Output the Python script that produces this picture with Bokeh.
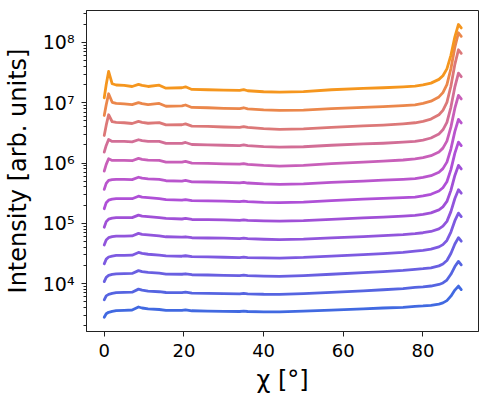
from bokeh.plotting import figure
from bokeh.models import Range1d, FixedTicker, CustomJSTickFormatter
from bokeh.embed import file_html
from bokeh.resources import INLINE

# chi angle in degrees (shared by all curves)
chi = [0, 0.5, 1.1, 2, 3, 5, 7, 8.6, 9.5, 11, 13.8, 15.5, 19.5, 20.4, 22, 26, 30, 34, 35, 36,
       40, 44, 50, 57, 65, 70, 75, 78, 80, 82, 84, 85, 86, 87, 88, 88.9, 89.3, 89.6]

log_I_01 = [3.440, 3.498, 3.523, 3.539, 3.551, 3.556, 3.561, 3.611, 3.594, 3.578, 3.569, 3.556, 3.556, 3.564,
            3.548, 3.543, 3.539, 3.536, 3.543, 3.536, 3.531, 3.531, 3.543, 3.559, 3.581, 3.594, 3.606, 3.622,
            3.629, 3.639, 3.659, 3.679, 3.716, 3.790, 3.891, 3.958, 3.925, 3.900]
log_I_02 = [3.730, 3.796, 3.821, 3.837, 3.849, 3.854, 3.857, 3.907, 3.890, 3.874, 3.864, 3.851, 3.849, 3.857,
            3.841, 3.837, 3.832, 3.829, 3.836, 3.829, 3.822, 3.821, 3.834, 3.854, 3.879, 3.897, 3.917, 3.937,
            3.946, 3.959, 3.984, 4.010, 4.058, 4.153, 4.282, 4.368, 4.335, 4.310]
log_I_03 = [4.031, 4.103, 4.134, 4.151, 4.161, 4.164, 4.167, 4.214, 4.197, 4.184, 4.172, 4.157, 4.154, 4.162,
            4.146, 4.142, 4.137, 4.132, 4.141, 4.132, 4.124, 4.119, 4.132, 4.154, 4.181, 4.197, 4.217, 4.235,
            4.246, 4.261, 4.293, 4.324, 4.382, 4.498, 4.656, 4.761, 4.728, 4.703]
log_I_04 = [4.327, 4.405, 4.440, 4.456, 4.466, 4.468, 4.470, 4.516, 4.500, 4.486, 4.473, 4.458, 4.453, 4.461,
            4.445, 4.441, 4.436, 4.430, 4.438, 4.430, 4.425, 4.423, 4.433, 4.455, 4.481, 4.498, 4.518, 4.539,
            4.552, 4.571, 4.608, 4.646, 4.715, 4.854, 5.043, 5.169, 5.136, 5.111]
log_I_05 = [4.639, 4.723, 4.761, 4.778, 4.788, 4.788, 4.790, 4.833, 4.816, 4.806, 4.791, 4.776, 4.770, 4.776,
            4.760, 4.756, 4.752, 4.745, 4.753, 4.745, 4.735, 4.728, 4.737, 4.758, 4.780, 4.796, 4.813, 4.828,
            4.843, 4.864, 4.908, 4.952, 5.032, 5.193, 5.411, 5.557, 5.524, 5.499]
log_I_06 = [4.935, 5.027, 5.068, 5.085, 5.093, 5.093, 5.093, 5.136, 5.120, 5.110, 5.095, 5.080, 5.071, 5.080,
            5.063, 5.060, 5.055, 5.048, 5.057, 5.048, 5.040, 5.037, 5.045, 5.065, 5.088, 5.103, 5.118, 5.131,
            5.148, 5.172, 5.222, 5.272, 5.363, 5.546, 5.794, 5.960, 5.927, 5.902]
log_I_07 = [5.242, 5.342, 5.383, 5.400, 5.408, 5.408, 5.408, 5.449, 5.433, 5.425, 5.408, 5.391, 5.383, 5.391,
            5.375, 5.372, 5.367, 5.358, 5.367, 5.358, 5.347, 5.342, 5.350, 5.375, 5.400, 5.413, 5.425, 5.435,
            5.453, 5.481, 5.535, 5.590, 5.690, 5.891, 6.165, 6.347, 6.314, 6.289]
log_I_08 = [5.562, 5.662, 5.711, 5.723, 5.728, 5.728, 5.725, 5.764, 5.748, 5.738, 5.728, 5.706, 5.701, 5.711,
            5.688, 5.685, 5.678, 5.670, 5.680, 5.668, 5.653, 5.645, 5.653, 5.678, 5.701, 5.715, 5.728, 5.740,
            5.760, 5.789, 5.848, 5.907, 6.015, 6.232, 6.526, 6.723, 6.690, 6.665]
log_I_09 = [5.866, 5.977, 6.071, 6.043, 6.043, 6.043, 6.038, 6.076, 6.060, 6.048, 6.043, 6.016, 6.015, 6.026,
            5.998, 5.993, 5.987, 5.980, 5.990, 5.978, 5.960, 5.948, 5.960, 5.990, 6.016, 6.031, 6.050, 6.068,
            6.089, 6.121, 6.184, 6.247, 6.363, 6.595, 6.910, 7.121, 7.088, 7.063]
log_I_10 = [6.181, 6.292, 6.391, 6.358, 6.358, 6.358, 6.350, 6.386, 6.371, 6.358, 6.360, 6.326, 6.326, 6.341,
            6.307, 6.302, 6.295, 6.290, 6.300, 6.287, 6.272, 6.263, 6.270, 6.295, 6.317, 6.328, 6.345, 6.358,
            6.381, 6.415, 6.483, 6.551, 6.675, 6.925, 7.264, 7.491, 7.458, 7.433]
log_I_11 = [6.457, 6.628, 6.801, 6.685, 6.673, 6.668, 6.656, 6.691, 6.676, 6.660, 6.671, 6.632, 6.635, 6.650,
            6.612, 6.607, 6.598, 6.593, 6.605, 6.590, 6.570, 6.557, 6.565, 6.593, 6.615, 6.630, 6.651, 6.668,
            6.692, 6.729, 6.801, 6.874, 7.007, 7.274, 7.637, 7.879, 7.846, 7.821]
log_I_12 = [6.789, 6.966, 7.149, 7.008, 6.990, 6.983, 6.970, 7.003, 6.986, 6.970, 6.988, 6.942, 6.947, 6.963,
            6.922, 6.917, 6.908, 6.903, 6.917, 6.900, 6.882, 6.872, 6.879, 6.903, 6.925, 6.937, 6.953, 6.966,
            6.990, 7.026, 7.097, 7.169, 7.301, 7.564, 7.922, 8.161, 8.128, 8.103]
log_I_13 = [7.083, 7.304, 7.519, 7.315, 7.295, 7.287, 7.270, 7.304, 7.287, 7.270, 7.292, 7.242, 7.249, 7.265,
            7.221, 7.216, 7.209, 7.204, 7.217, 7.199, 7.183, 7.176, 7.184, 7.216, 7.237, 7.249, 7.265, 7.275,
            7.295, 7.326, 7.388, 7.449, 7.562, 7.787, 8.094, 8.299, 8.266, 8.241]

series = [log_I_01, log_I_02, log_I_03, log_I_04, log_I_05, log_I_06, log_I_07,
          log_I_08, log_I_09, log_I_10, log_I_11, log_I_12, log_I_13]

colors = ["#4169E1", "#5564E1", "#695FE1", "#7D5AE1", "#9155DC", "#A050D7", "#AF50D7",
          "#B955CD", "#C85FB9", "#D26E96", "#DC7878", "#EB874B", "#F5961E"]

y_ticks = [1e4, 1e5, 1e6, 1e7, 1e8]
y_minor = [m * 10.0 ** e for e in range(3, 9) for m in range(2, 10)]
x_ticks = [0, 20, 40, 60, 80]

FONT = "DejaVu Sans"

p = figure(width=487, height=403, output_backend="svg", toolbar_location=None,
           y_axis_type="log",
           x_range=Range1d(-4.45, 93.93), y_range=Range1d(10 ** 3.204, 10 ** 8.531),
           min_border_left=84, min_border_right=9, min_border_top=10, min_border_bottom=72)

for ys, c in zip(series, colors):
    p.line(chi, [10 ** v for v in ys], line_color=c, line_width=2.8,
           line_join="round", line_cap="round")

p.xgrid.visible = False
p.ygrid.visible = False
p.outline_line_color = "#222222"
p.outline_line_width = 1
p.background_fill_color = "white"
p.border_fill_color = "white"

p.xaxis.ticker = FixedTicker(ticks=x_ticks)
p.yaxis.ticker = FixedTicker(ticks=y_ticks, minor_ticks=y_minor)
p.yaxis.formatter = CustomJSTickFormatter(code="""
const sup = {"0":"\u2070","1":"\u00b9","2":"\u00b2","3":"\u00b3","4":"\u2074","5":"\u2075",
             "6":"\u2076","7":"\u2077","8":"\u2078","9":"\u2079","-":"\u207b"};
const e = Math.round(Math.log10(tick));
return "10" + String(e).split("").map(c => sup[c]).join("");
""")

for ax in (p.xaxis, p.yaxis):
    ax.axis_line_color = "#222222"
    ax.major_tick_line_color = "#222222"
    ax.minor_tick_line_color = "#222222"
    ax.major_tick_out = 5
    ax.major_tick_in = 0
    ax.minor_tick_out = 3
    ax.minor_tick_in = 0
    ax.major_label_text_font = FONT
    ax.major_label_text_color = "black"
    ax.axis_label_text_font = FONT
    ax.axis_label_text_font_size = "24px"
    ax.axis_label_text_font_style = "normal"
    ax.axis_label_text_color = "black"
    ax.major_label_standoff = 7

p.xaxis.minor_tick_line_color = None
p.xaxis.axis_label = "\u03c7 [\u00b0]"
p.yaxis.axis_label = "Intensity [arb. units]"
p.xaxis.axis_label_standoff = 6
p.yaxis.axis_label_standoff = 8
p.xaxis.major_label_text_font_size = "18px"
p.yaxis.major_label_text_font_size = "19px"

open("out.html", "w").write(file_html(p, INLINE))
